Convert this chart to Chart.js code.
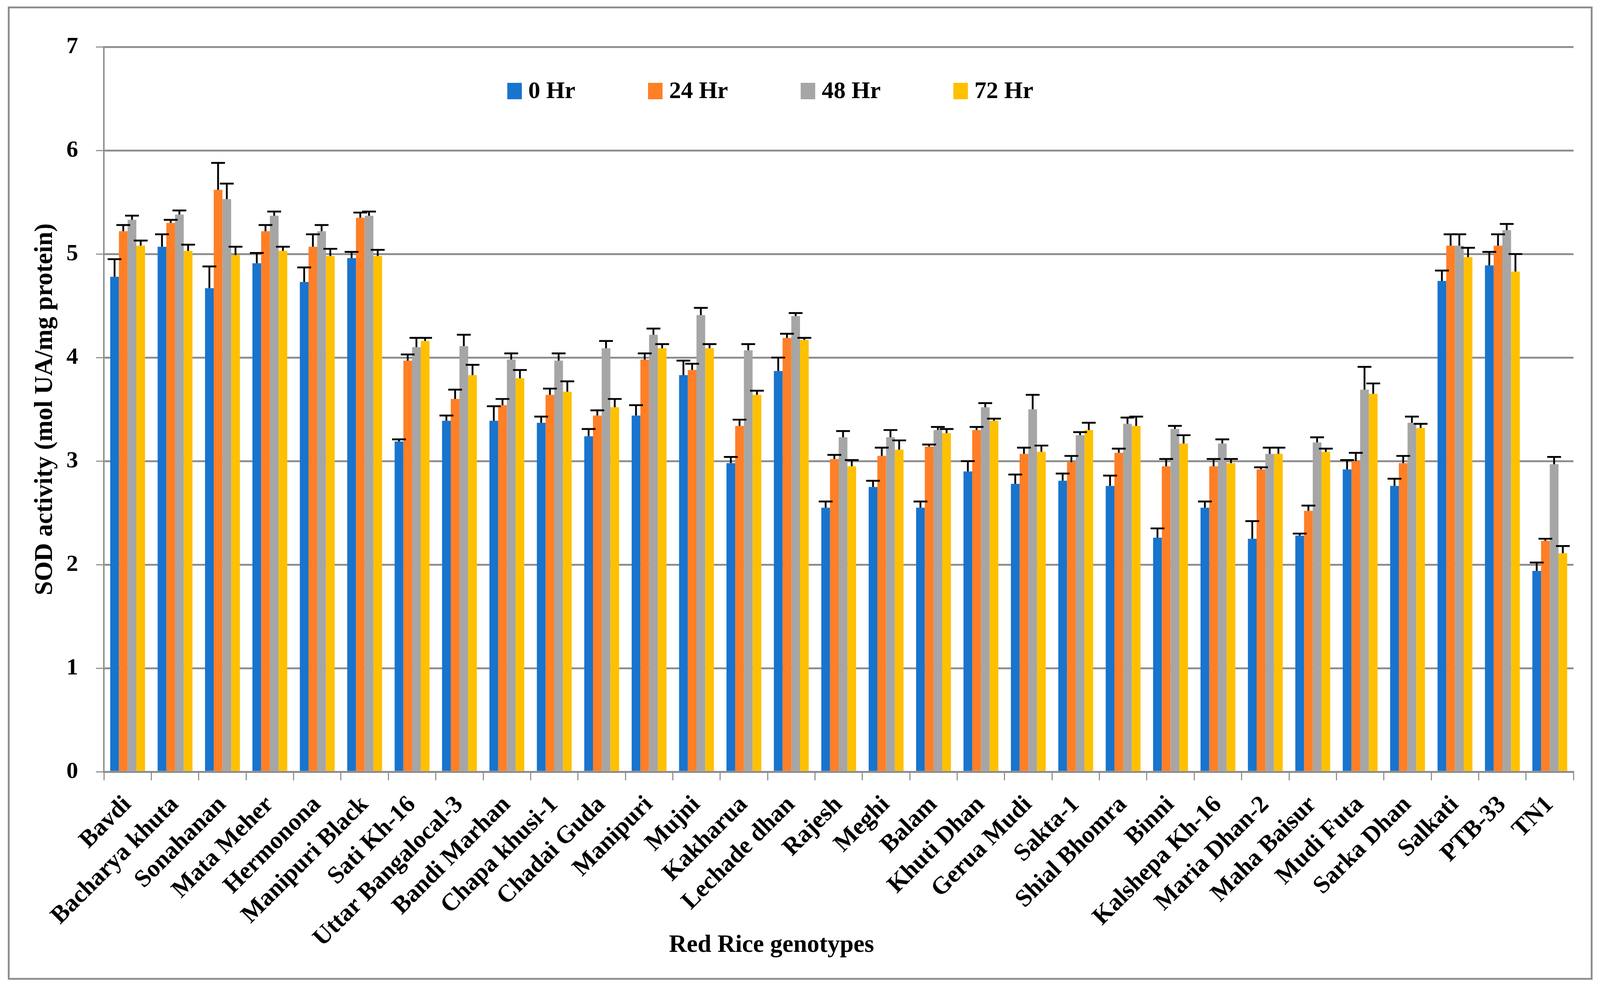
<!DOCTYPE html>
<html>
<head>
<meta charset="utf-8">
<script src="https://cdn.jsdelivr.net/npm/chart.js@4.4.0/dist/chart.umd.min.js"></script>
<style>
  html, body { margin: 0; padding: 0; background: #ffffff; overflow: hidden; }
  #sodChart { display: block; }
</style>
</head>
<body>
<canvas id="sodChart"></canvas>
<script>
// genotypes on the x axis
const genotypes = ['Bavdi', 'Bacharya khuta', 'Sonahanan', 'Mata Meher', 'Hermonona', 'Manipuri Black',
  'Sati Kh-16', 'Uttar Bangalocal-3', 'Bandi Marhan', 'Chapa khusi-1', 'Chadai Guda', 'Manipuri',
  'Mujni', 'Kakharua', 'Lechade dhan', 'Rajesh', 'Meghi', 'Balam', 'Khuti Dhan', 'Gerua Mudi',
  'Sakta-1', 'Shial Bhomra', 'Binni', 'Kalshepa Kh-16', 'Maria Dhan-2', 'Maha Baisur', 'Mudi Futa',
  'Sarka Dhan', 'Salkati', 'PTB-33', 'TN1'];

const seriesNames = ['0 Hr', '24 Hr', '48 Hr', '72 Hr'];

// SOD activity
const hr0  = [4.78, 5.07, 4.67, 4.91, 4.73, 4.96, 3.19, 3.39, 3.39, 3.37, 3.24, 3.44, 3.83, 2.98, 3.87, 2.55, 2.75, 2.55, 2.90, 2.78, 2.81, 2.76, 2.26, 2.55, 2.25, 2.28, 2.92, 2.76, 4.74, 4.89, 1.94];
const hr24 = [5.22, 5.30, 5.62, 5.22, 5.07, 5.35, 3.97, 3.60, 3.54, 3.64, 3.44, 3.98, 3.88, 3.34, 4.19, 3.02, 3.05, 3.14, 3.30, 3.07, 2.99, 3.08, 2.95, 2.95, 2.92, 2.52, 3.00, 2.98, 5.08, 5.08, 2.23];
const hr48 = [5.33, 5.38, 5.53, 5.37, 5.22, 5.37, 4.10, 4.11, 3.98, 3.97, 4.09, 4.22, 4.41, 4.07, 4.40, 3.23, 3.23, 3.30, 3.52, 3.50, 3.25, 3.36, 3.31, 3.17, 3.07, 3.18, 3.69, 3.37, 5.08, 5.23, 2.97];
const hr72 = [5.08, 5.03, 4.99, 5.03, 4.98, 4.98, 4.16, 3.83, 3.80, 3.67, 3.52, 4.09, 4.09, 3.64, 4.17, 2.95, 3.11, 3.27, 3.39, 3.09, 3.30, 3.34, 3.17, 2.98, 3.07, 3.09, 3.65, 3.32, 4.97, 4.83, 2.11];

// upper error bars
const err0  = [0.17, 0.12, 0.21, 0.10, 0.14, 0.06, 0.02, 0.05, 0.14, 0.06, 0.07, 0.10, 0.14, 0.06, 0.13, 0.06, 0.06, 0.06, 0.10, 0.09, 0.07, 0.10, 0.09, 0.06, 0.17, 0.02, 0.09, 0.07, 0.10, 0.13, 0.08];
const err24 = [0.06, 0.03, 0.26, 0.06, 0.12, 0.05, 0.06, 0.09, 0.06, 0.06, 0.05, 0.06, 0.06, 0.06, 0.04, 0.04, 0.08, 0.02, 0.03, 0.06, 0.06, 0.04, 0.07, 0.07, 0.02, 0.05, 0.08, 0.07, 0.11, 0.11, 0.02];
const err48 = [0.04, 0.04, 0.15, 0.04, 0.06, 0.04, 0.09, 0.11, 0.06, 0.07, 0.07, 0.06, 0.07, 0.06, 0.03, 0.06, 0.07, 0.03, 0.04, 0.14, 0.03, 0.06, 0.03, 0.04, 0.06, 0.05, 0.22, 0.06, 0.11, 0.06, 0.07];
const err72 = [0.05, 0.06, 0.08, 0.04, 0.07, 0.06, 0.03, 0.10, 0.08, 0.10, 0.08, 0.04, 0.04, 0.04, 0.02, 0.06, 0.09, 0.04, 0.02, 0.06, 0.07, 0.09, 0.08, 0.04, 0.06, 0.03, 0.10, 0.04, 0.09, 0.17, 0.07];

const yTicks = [0, 1, 2, 3, 4, 5, 6, 7];

const colors = ['#1874cd', '#ff7f27', '#a6a6a6', '#ffc000'];
const FONT = "'Liberation Serif', 'Times New Roman', serif";
const GRID = '#8c8c8c';

const values = [hr0, hr24, hr48, hr72];
const errors = [err0, err24, err48, err72];

// layout was measured on a 4403 x 2531 frame; scale it to whatever the viewport is
const W = window.innerWidth;
const H = window.innerHeight;
const sx = W / 4403;
const sy = H / 2531;
const sf = Math.min(sx, sy);
const px = v => v * sx;
const py = v => v * sy;
const fs = v => Math.round(v * sf);

const canvas = document.getElementById('sodChart');
canvas.style.width = W + 'px';
canvas.style.height = H + 'px';

// T-shaped upper error bars
const errorBars = {
  id: 'errorBars',
  afterDatasetsDraw(chart) {
    const ctx = chart.ctx;
    const y = chart.scales.y;
    ctx.save();
    ctx.strokeStyle = '#000000';
    ctx.lineWidth = 5 * sf;
    chart.data.datasets.forEach((ds, i) => {
      const meta = chart.getDatasetMeta(i);
      meta.data.forEach((bar, j) => {
        const top = y.getPixelForValue(ds.data[j] + ds.errors[j]);
        ctx.beginPath();
        ctx.moveTo(bar.x, bar.y);
        ctx.lineTo(bar.x, top);
        ctx.moveTo(bar.x - px(19), top);
        ctx.lineTo(bar.x + px(19), top);
        ctx.stroke();
      });
    });
    ctx.restore();
  }
};

// legend inside the plot, outer frame and x title
const decorations = {
  id: 'decorations',
  beforeDraw(chart) {
    const ctx = chart.ctx;
    ctx.save();
    ctx.strokeStyle = GRID;
    ctx.lineWidth = 5 * sf;
    ctx.strokeRect(px(24), py(19), px(4356), py(2486));
    ctx.restore();
  },
  afterDraw(chart) {
    const ctx = chart.ctx;
    ctx.save();
    ctx.font = 'bold ' + fs(66) + 'px ' + FONT;
    ctx.textBaseline = 'middle';
    let x = px(1396);
    const cy = py(233);
    chart.data.datasets.forEach((ds) => {
      ctx.fillStyle = ds.backgroundColor;
      ctx.fillRect(x, cy - py(21), px(40), py(42));
      ctx.fillStyle = '#000000';
      ctx.textAlign = 'left';
      ctx.fillText(ds.label, x + px(58), cy + py(2));
      x += px(58) + ctx.measureText(ds.label).width + px(200);
    });
    ctx.font = 'bold ' + fs(68) + 'px ' + FONT;
    ctx.textAlign = 'center';
    ctx.fillText('Red Rice genotypes', px(2123), py(2420));
    ctx.restore();
  }
};

new Chart(canvas, {
  type: 'bar',
  data: {
    labels: genotypes,
    datasets: seriesNames.map((name, i) => ({
      label: name,
      data: values[i],
      errors: errors[i],
      backgroundColor: colors[i],
      borderWidth: 0,
      barPercentage: 1.0,
      categoryPercentage: 0.735
    }))
  },
  options: {
    responsive: false,
    animation: false,
    layout: { padding: { top: py(120), right: px(73), bottom: 0, left: 0 } },
    plugins: {
      legend: { display: false },
      tooltip: { enabled: false }
    },
    scales: {
      x: {
        afterFit(scale) { scale.height = py(556); },
        grid: {
          display: true,
          drawOnChartArea: false,
          drawTicks: true,
          tickLength: py(22),
          color: GRID,
          lineWidth: 3 * sf
        },
        border: { display: true, color: GRID, width: 5 * sf },
        ticks: {
          autoSkip: false,
          maxRotation: 45,
          minRotation: 45,
          padding: py(26),
          color: '#000000',
          font: { family: FONT, size: fs(68), weight: 'bold' }
        }
      },
      y: {
        min: 0,
        max: 7,
        afterFit(scale) { scale.width = px(286); },
        afterBuildTicks(scale) { scale.ticks = yTicks.map(v => ({ value: v })); },
        grid: {
          color: GRID,
          lineWidth: 5 * sf,
          tickLength: px(22),
          tickColor: GRID,
          tickWidth: 3 * sf
        },
        border: { display: true, color: GRID, width: 4 * sf },
        ticks: {
          padding: px(49),
          color: '#000000',
          font: { family: FONT, size: fs(64), weight: 'bold' }
        },
        title: {
          display: true,
          text: 'SOD activity (mol UA/mg protein)',
          color: '#000000',
          padding: { top: px(83), bottom: 0 },
          font: { family: FONT, size: fs(70), weight: 'bold' }
        }
      }
    }
  },
  plugins: [errorBars, decorations]
});
</script>
</body>
</html>
